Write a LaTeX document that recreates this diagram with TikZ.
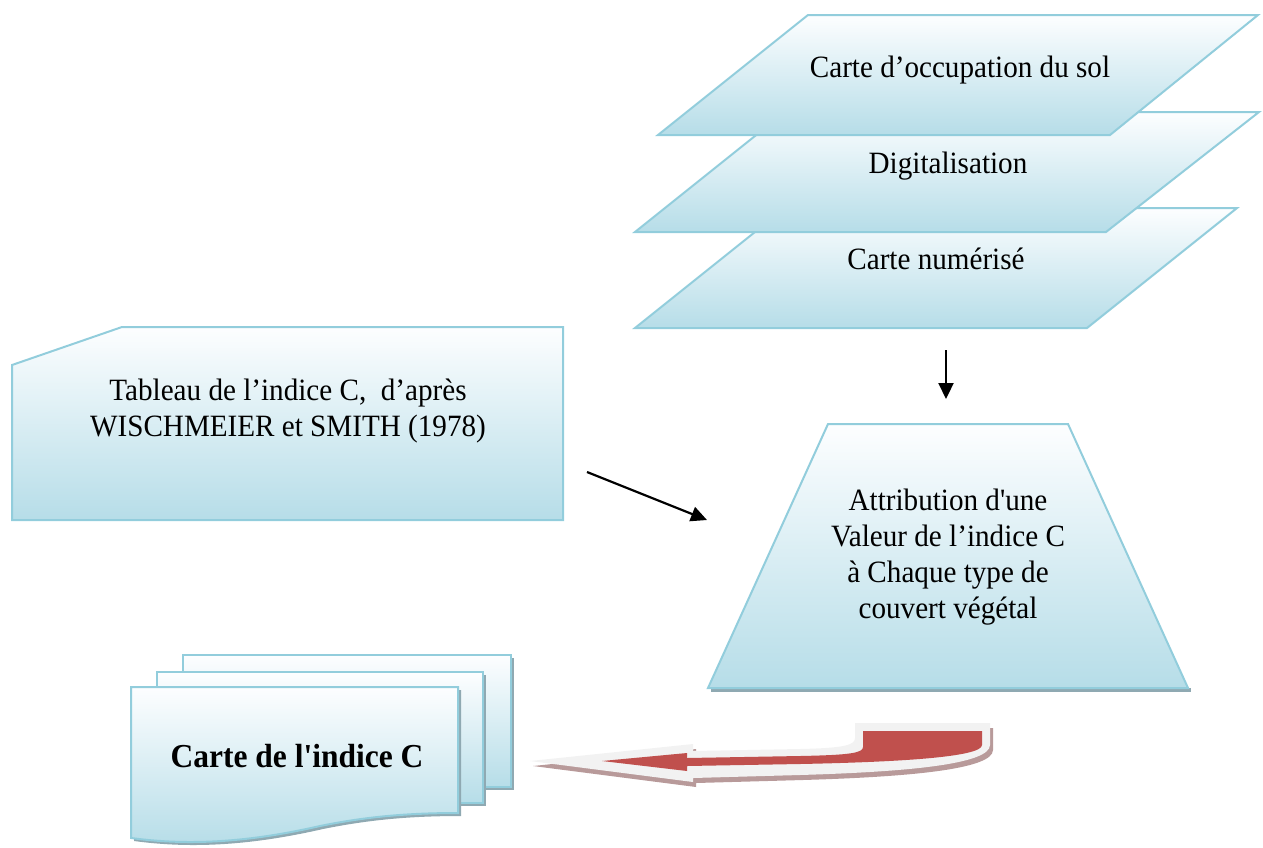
\documentclass[tikz,border=0pt]{standalone}
\usepackage{fontspec}
\setmainfont{Liberation Serif}[FakeStretch=0.94, Ligatures=TeXOff]
\usetikzlibrary{arrows.meta}
\definecolor{bordc}{HTML}{92CDDC}
\definecolor{topc}{HTML}{FDFEFF}
\definecolor{botc}{HTML}{B6DDE8}
\definecolor{shadc}{HTML}{8FA9B2}
\definecolor{redc}{HTML}{C0504D}
\definecolor{rimc}{HTML}{F2F2F2}
\definecolor{rshad}{HTML}{B89A9A}
\tikzset{
  boxshape/.style={draw=bordc, line width=2pt, top color=topc, bottom color=botc, line join=miter},
  shadowshape/.style={fill=shadc, draw=none},
  txt/.style={font=\fontsize{31}{36}\selectfont, align=center, inner sep=0pt},
  arr/.style={-{Triangle[length=16pt,width=15pt]}, line width=2.2pt, black}
}
\begin{document}
\begin{tikzpicture}[x=1pt,y=-1pt]
\useasboundingbox (0,0) rectangle (1263,847);

% stacked parallelograms
\path[boxshape] (785,208) -- (1237,208) -- (1087,328) -- (635,328) -- cycle;
\path[boxshape] (785,112) -- (1259,112) -- (1106,232) -- (635,232) -- cycle;
\path[boxshape] (808,15) -- (1258,15) -- (1110,135) -- (658,135) -- cycle;
\node[txt, anchor=base] (occ) at (960,77) {Carte d’occupation du sol};
\node[txt, anchor=base] (dig) at (948,173) {Digitalisation};
\node[txt, anchor=base] (num) at (936,269) {Carte numérisé};

% manual input
\path[boxshape] (12,365) -- (122,327) -- (563,327) -- (563,520) -- (12,520) -- cycle;
\node[txt] (tab) at (288,411) {Tableau de l’indice C,\ \ d’après\\WISCHMEIER et SMITH (1978)};

% trapezoid
\path[shadowshape] (711,688) -- (1191,688) -- (1191,692) -- (711,692) -- cycle;
\path[boxshape] (828,424) -- (1068,424) -- (1188,688) -- (708,688) -- cycle;
\node[txt] (attr) at (948,557) {Attribution d'une\\Valeur de l’indice C\\à Chaque type de\\couvert végétal};

% arrows
\coordinate (d1) at (946,350);
\coordinate (d2) at (946,399);
\draw[arr] (d1) -- (d2);
\coordinate (t1) at (587,472);
\coordinate (t2) at (707,520);
\draw[arr] (t1) -- (t2);

% multi-document
\path[shadowshape] (186,658) -- (514,658) -- (514,790) -- (186,790) -- cycle;
\path[boxshape] (183,655) -- (511,655) -- (511,787) -- (183,787) -- cycle;
\path[shadowshape] (160,675) -- (486,675) -- (486,806) -- (160,806) -- cycle;
\path[boxshape] (157,672) -- (483,672) -- (483,803) -- (157,803) -- cycle;
\path[shadowshape] (134,690) -- (461,690) -- (461,816) .. controls (403,816) and (363,821) .. (323,829) .. controls (253,845) and (193,849) .. (134,841) -- cycle;
\path[boxshape] (131,687) -- (458,687) -- (458,813) .. controls (400,813) and (360,818) .. (320,826) .. controls (250,842) and (190,846) .. (131,838) -- cycle;
\node[txt, anchor=base, font=\fontsize{33.5}{38}\selectfont\bfseries] (res) at (297,767) {Carte de l'indice C};

% red curved arrow
\begin{scope}[shift={(3,5)}]
\path[fill=rshad] (855,723) -- (990,723) -- (990,745) .. controls (990,765) and (900,772) .. (800,775) -- (693,778) -- (693,782) -- (530,761) -- (693,744) -- (693,751) -- (800,749) .. controls (845,748) and (855,745) .. (855,738) -- cycle;
\end{scope}
\path[fill=rimc] (855,723) -- (990,723) -- (990,745) .. controls (990,765) and (900,772) .. (800,775) -- (693,778) -- (693,782) -- (530,761) -- (693,744) -- (693,751) -- (800,749) .. controls (845,748) and (855,745) .. (855,738) -- cycle;
\path[fill=redc] (863,731) -- (982,731) -- (982,745) .. controls (982,757) and (900,762) .. (800,764) -- (687,766) -- (687,771) -- (602,761) -- (687,753) -- (687,758) -- (800,756) .. controls (850,755) and (863,753) .. (863,747) -- cycle;
\end{tikzpicture}
\end{document}
